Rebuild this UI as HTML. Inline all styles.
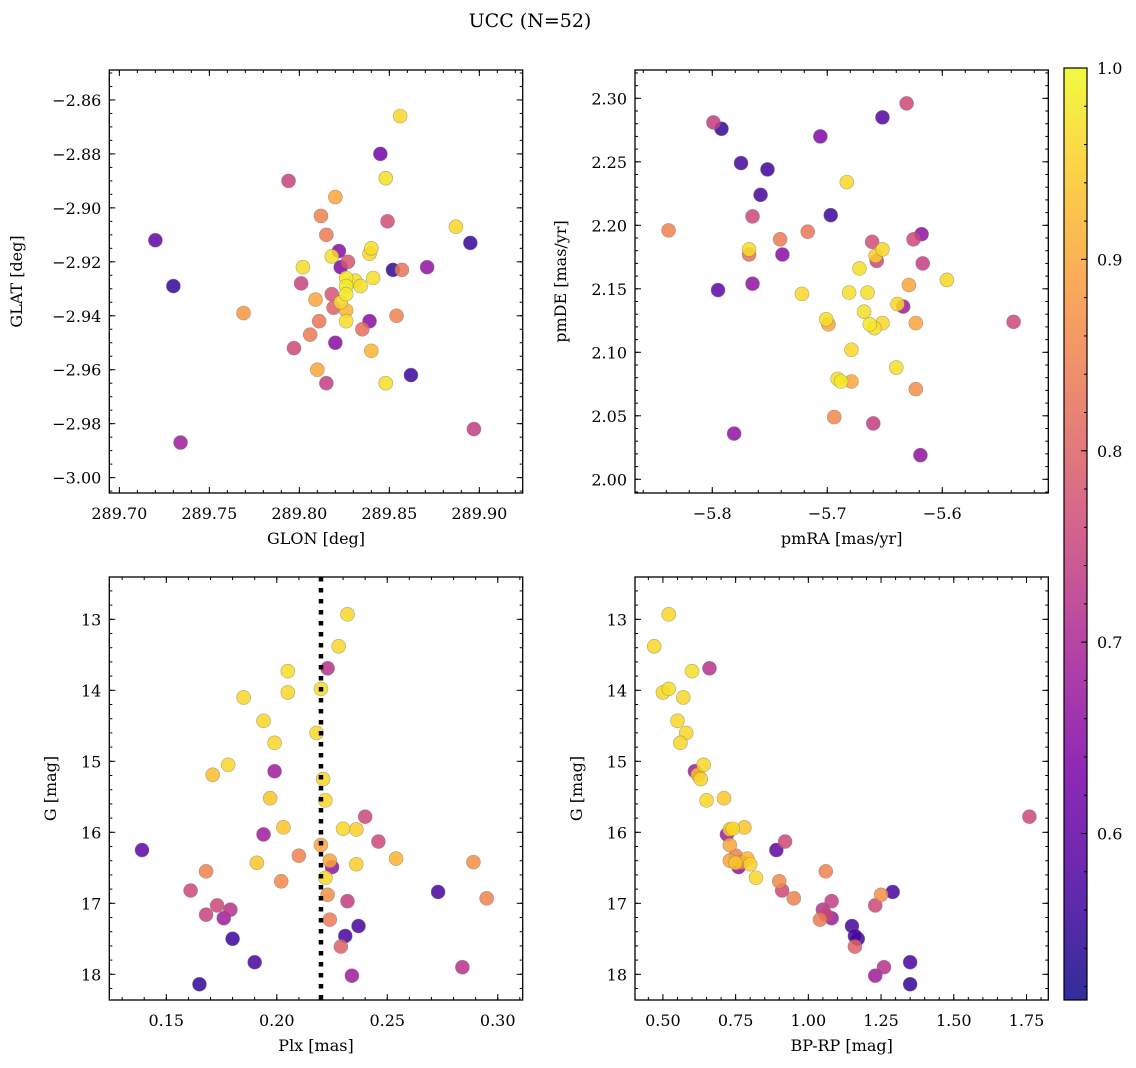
<!DOCTYPE html>
<html><head><meta charset="utf-8"><style>
html,body{margin:0;padding:0;background:#fff;}
svg{display:block;font-family:"DejaVu Serif","Liberation Serif",serif;}
</style></head><body>
<svg id="fig" width="1136" height="1068" viewBox="0 0 1136 1068">
<text x="530" y="27" font-size="19" text-anchor="middle">UCC (N=52)</text>
</svg>
<script>
// ---- Panel 1: GLON / GLAT ----
const glon = [289.794,289.848,289.820,289.812,289.849,289.815,289.822,289.818,289.840,289.839,289.827,289.823,289.802,289.852,289.857,289.871,289.801,289.826,289.831,289.841,289.834,289.826,289.826,289.818,289.823,289.809,289.819,289.826,289.839,289.811,289.854,289.826,289.835,289.806,289.820,289.840,289.797,289.810,289.815,289.848,289.862,289.856,289.845,289.887,289.720,289.895,289.730,289.769,289.897,289.734];
const glat = [-2.890,-2.889,-2.896,-2.903,-2.905,-2.910,-2.916,-2.918,-2.915,-2.917,-2.920,-2.922,-2.922,-2.923,-2.923,-2.922,-2.928,-2.926,-2.927,-2.926,-2.929,-2.929,-2.932,-2.932,-2.935,-2.934,-2.937,-2.938,-2.942,-2.942,-2.940,-2.942,-2.945,-2.947,-2.950,-2.953,-2.952,-2.960,-2.965,-2.965,-2.962,-2.866,-2.880,-2.907,-2.912,-2.913,-2.929,-2.939,-2.982,-2.987];
const prob1 = [0.75,0.97,0.9,0.85,0.77,0.84,0.65,0.97,0.97,0.96,0.78,0.64,0.97,0.55,0.83,0.66,0.75,0.98,0.97,0.97,0.97,0.98,0.98,0.78,0.96,0.9,0.8,0.92,0.65,0.83,0.85,0.97,0.82,0.84,0.65,0.92,0.76,0.9,0.74,0.97,0.56,0.96,0.62,0.96,0.6,0.55,0.55,0.88,0.74,0.68];
// ---- Panel 2: pmRA / pmDE ----
const pmra = [-5.631,-5.799,-5.792,-5.652,-5.706,-5.775,-5.752,-5.758,-5.683,-5.697,-5.765,-5.768,-5.768,-5.838,-5.741,-5.717,-5.618,-5.625,-5.661,-5.672,-5.739,-5.658,-5.657,-5.652,-5.617,-5.596,-5.795,-5.765,-5.722,-5.681,-5.665,-5.629,-5.639,-5.634,-5.668,-5.701,-5.699,-5.663,-5.659,-5.652,-5.623,-5.538,-5.679,-5.640,-5.691,-5.688,-5.679,-5.623,-5.694,-5.660,-5.781,-5.619];
const pmde = [2.296,2.281,2.276,2.285,2.270,2.249,2.244,2.224,2.234,2.208,2.207,2.181,2.177,2.196,2.189,2.195,2.193,2.189,2.187,2.166,2.177,2.176,2.172,2.181,2.170,2.157,2.149,2.154,2.146,2.147,2.147,2.153,2.138,2.136,2.132,2.126,2.122,2.122,2.119,2.123,2.123,2.124,2.102,2.088,2.079,2.077,2.077,2.071,2.049,2.044,2.036,2.019];
const prob2 = [0.76,0.74,0.55,0.58,0.64,0.57,0.56,0.57,0.96,0.56,0.76,0.97,0.82,0.85,0.84,0.83,0.66,0.76,0.77,0.97,0.65,0.95,0.76,0.96,0.74,0.96,0.6,0.66,0.96,0.97,0.97,0.9,0.96,0.68,0.97,0.97,0.9,0.98,0.97,0.96,0.9,0.76,0.96,0.97,0.97,0.98,0.9,0.87,0.86,0.74,0.66,0.66];
// ---- Panels 3 & 4: Plx / G / BP-RP ----
const gmag = [12.93,13.38,13.69,13.73,13.98,14.03,14.10,14.43,14.60,14.74,15.05,15.14,15.19,15.25,15.52,15.55,15.78,15.93,15.95,15.96,16.03,16.13,16.18,16.25,16.33,16.37,16.40,16.42,16.43,16.45,16.49,16.55,16.64,16.69,16.82,16.84,16.88,16.93,16.97,17.03,17.09,17.16,17.21,17.23,17.32,17.46,17.50,17.61,17.83,17.90,18.02,18.14];
const plx = [0.232,0.228,0.223,0.205,0.220,0.205,0.185,0.194,0.218,0.199,0.178,0.199,0.171,0.221,0.197,0.222,0.240,0.203,0.230,0.236,0.194,0.246,0.220,0.139,0.210,0.254,0.224,0.289,0.191,0.236,0.225,0.168,0.222,0.202,0.161,0.273,0.223,0.295,0.232,0.173,0.179,0.168,0.176,0.224,0.237,0.231,0.180,0.229,0.190,0.284,0.234,0.165];
const bprp = [0.52,0.47,0.66,0.60,0.52,0.50,0.57,0.55,0.58,0.56,0.64,0.61,0.62,0.63,0.71,0.65,1.76,0.78,0.74,0.73,0.72,0.92,0.73,0.89,0.75,0.79,0.73,0.77,0.75,0.80,0.76,1.06,0.82,0.90,0.91,1.29,1.25,0.95,1.08,1.23,1.05,1.06,1.08,1.04,1.15,1.16,1.17,1.16,1.35,1.26,1.23,1.35];
const prob3 = [0.96,0.96,0.72,0.97,0.97,0.96,0.96,0.96,0.96,0.96,0.96,0.68,0.93,0.96,0.94,0.96,0.76,0.94,0.96,0.95,0.68,0.76,0.9,0.6,0.85,0.92,0.9,0.87,0.94,0.95,0.66,0.85,0.96,0.86,0.76,0.57,0.87,0.85,0.74,0.76,0.72,0.75,0.68,0.84,0.57,0.57,0.56,0.8,0.57,0.72,0.68,0.55];
const plxLine = 0.22;
const cbMin = 0.513, cbMax = 1.0;
const cbTicks = [0.6,0.7,0.8,0.9,1.0];

const NS = "http://www.w3.org/2000/svg";
const svg = document.getElementById('fig');
function mk(tag, attrs, parent){ const e=document.createElementNS(NS,tag); for(const k in attrs) e.setAttribute(k,attrs[k]); (parent||svg).appendChild(e); return e; }

const stops = [[0,[13,8,135]],[0.125,[75,3,161]],[0.25,[125,3,168]],[0.375,[168,34,150]],[0.5,[203,70,121]],[0.625,[229,107,93]],[0.75,[248,148,65]],[0.875,[253,195,40]],[1,[240,249,33]]];
function plasma(t){ t=Math.max(0,Math.min(1,t)); for(let i=1;i<stops.length;i++){ if(t<=stops[i][0]){ const a=stops[i-1],b=stops[i]; const f=(t-a[0])/(b[0]-a[0]); const c=a[1].map((v,j)=>Math.round(v+(b[1][j]-v)*f)); return `rgb(${c[0]},${c[1]},${c[2]})`; } } return 'rgb(240,249,33)'; }
function pc(p){ return plasma((p-cbMin)/(cbMax-cbMin)); }

function linScale(d0,d1,r0,r1){ return v=>r0+(v-d0)/(d1-d0)*(r1-r0); }

function axes(cfg){
  const {name,x0,x1,y0,y1,xd,yd,xt,yt,xminor,yminor,xfmt,yfmt,xlabel,ylabel,ylabelX} = cfg;
  const sx=linScale(xd[0],xd[1],x0,x1), sy=linScale(yd[0],yd[1],y0,y1);
  const g=mk('g',{});
  
  
  const ticks=mk('g',{stroke:'#000','stroke-width':1},g);
  
  
  const xlo=Math.min(xd[0],xd[1]), xhi=Math.max(xd[0],xd[1]), ylo=Math.min(yd[0],yd[1]), yhi=Math.max(yd[0],yd[1]);
  for(let v=Math.ceil(xlo/xminor-1e-6)*xminor; v<=xhi+1e-9; v+=xminor){ const X=sx(v); mk('line',{x1:X,x2:X,y1:y1,y2:y1-3},ticks); mk('line',{x1:X,x2:X,y1:y0,y2:y0+3},ticks); }
  for(let v=Math.ceil(ylo/yminor-1e-6)*yminor; v<=yhi+1e-9; v+=yminor){ const Y=sy(v); mk('line',{x1:x0,x2:x0+3,y1:Y,y2:Y},ticks); mk('line',{x1:x1,x2:x1-3,y1:Y,y2:Y},ticks); }
  xt.forEach(v=>{ const X=sx(v); mk('line',{x1:X,x2:X,y1:y1,y2:y1-6},ticks); mk('line',{x1:X,x2:X,y1:y0,y2:y0+6},ticks);
    const t=mk('text',{x:X,y:y1+26,'font-size':16,'text-anchor':'middle',stroke:'none',fill:'#000'},g); t.textContent=xfmt(v);
    
     });
  yt.forEach(v=>{ const Y=sy(v); mk('line',{x1:x0,x2:x0+6,y1:Y,y2:Y},ticks); mk('line',{x1:x1,x2:x1-6,y1:Y,y2:Y},ticks);
    const t=mk('text',{x:x0-8,y:Y+6,'font-size':16,'text-anchor':'end',stroke:'none',fill:'#000'},g); t.textContent=yfmt(v);
    
     });
  const xl=mk('text',{x:(x0+x1)/2,y:y1+51,'font-size':16,'text-anchor':'middle'},g); xl.textContent=xlabel;
  
  
  const yl=mk('text',{x:ylabelX,y:(y0+y1)/2,'font-size':16,'text-anchor':'middle',transform:`rotate(-90 ${ylabelX} ${(y0+y1)/2})`},g); yl.textContent=ylabel;
  
  
  return {sx,sy,g,frame:()=>{ const f=mk('rect',{x:x0,y:y0,width:x1-x0,height:y1-y0,fill:'none',stroke:'#000','stroke-width':1.3},g);
    
     }};
}
function scatter(ax, xs, ys, ps, name){
  const g=mk('g',{},ax.g);
  
  
  const idx=xs.map((_,i)=>i).sort((a,b)=>ps[a]-ps[b]);
  idx.forEach(i=>{
    const c=mk('circle',{cx:ax.sx(xs[i]),cy:ax.sy(ys[i]),r:7,fill:pc(ps[i]),'fill-opacity':0.85,stroke:'#777','stroke-opacity':0.6,'stroke-width':0.6},g);
    
    
  });
}
const f2=v=>v.toFixed(2), f1=v=>v.toFixed(1), f0=v=>v.toFixed(0);
const neg=s=>s.replace('-','\u2212');

const a1=axes({name:'glon-glat-panel',x0:109.3,x1:522.7,y0:70,y1:493,xd:[289.6944,289.9241],yd:[-2.8489,-3.0057],
  xt:[289.70,289.75,289.80,289.85,289.90],yt:[-2.86,-2.88,-2.90,-2.92,-2.94,-2.96,-2.98,-3.00],xminor:0.01,yminor:0.005,
  xfmt:f2,yfmt:v=>neg(f2(v)),xlabel:'GLON [deg]',ylabel:'GLAT [deg]',ylabelX:22});
scatter(a1,glon,glat,prob1,'glon-glat-points'); a1.frame();

const a2=axes({name:'pm-panel',x0:635,x1:1048.3,y0:70,y1:493,xd:[-5.8672,-5.5078],yd:[2.3223,1.9892],
  xt:[-5.8,-5.7,-5.6],yt:[2.00,2.05,2.10,2.15,2.20,2.25,2.30],xminor:0.02,yminor:0.01,
  xfmt:v=>neg(f1(v)),yfmt:f2,xlabel:'pmRA [mas/yr]',ylabel:'pmDE [mas/yr]',ylabelX:566});
scatter(a2,pmra,pmde,prob2,'pm-points'); a2.frame();

const a3=axes({name:'plx-g-panel',x0:109.3,x1:522.7,y0:577,y1:1000,xd:[0.1242,0.3113],yd:[12.404,18.362],
  xt:[0.15,0.20,0.25,0.30],yt:[13,14,15,16,17,18],xminor:0.01,yminor:0.2,
  xfmt:f2,yfmt:f0,xlabel:'Plx [mas]',ylabel:'G [mag]',ylabelX:56});
scatter(a3,plx,gmag,prob3,'plx-g-points');
const pl=mk('line',{x1:a3.sx(plxLine),x2:a3.sx(plxLine),y1:577,y2:1000,stroke:'#000','stroke-width':4.5,'stroke-dasharray':'4.5,6.5'},a3.g);


a3.frame();

const a4=axes({name:'cmd-panel',x0:635,x1:1048.3,y0:577,y1:1000,xd:[0.404,1.825],yd:[12.404,18.362],
  xt:[0.50,0.75,1.00,1.25,1.50,1.75],yt:[13,14,15,16,17,18],xminor:0.05,yminor:0.2,
  xfmt:f2,yfmt:f0,xlabel:'BP-RP [mag]',ylabel:'G [mag]',ylabelX:582});
scatter(a4,bprp,gmag,prob3,'cmd-points'); a4.frame();

// colorbar
const cb=mk('g',{});


const defs=mk('defs',{});
const lg=mk('linearGradient',{id:'cbg',x1:0,y1:1,x2:0,y2:0},defs);
for(let i=0;i<=20;i++){ const t=i/20; mk('stop',{offset:t,'stop-color':plasma(t),'stop-opacity':0.85},lg); }
const cbx0=1064, cbx1=1087, cby0=68, cby1=1000;
const cs=linScale(cbMin,cbMax,cby1,cby0);
mk('rect',{x:cbx0,y:cby0,width:cbx1-cbx0,height:cby1-cby0,fill:'url(#cbg)'},cb);
for(let v=0.52; v<=1.0001; v+=0.02){ const Y=cs(v); mk('line',{x1:cbx1,x2:cbx1-3,y1:Y,y2:Y,stroke:'#000'},cb); }
cbTicks.forEach(v=>{ const Y=cs(v); mk('line',{x1:cbx1,x2:cbx1-6,y1:Y,y2:Y,stroke:'#000'},cb);
  const t=mk('text',{x:cbx1+10,y:Y+6,'font-size':16},cb); t.textContent=f1(v);
  
   });
mk('rect',{x:cbx0,y:cby0,width:cbx1-cbx0,height:cby1-cby0,fill:'none',stroke:'#000','stroke-width':1.2},cb);
</script>
</body></html>
